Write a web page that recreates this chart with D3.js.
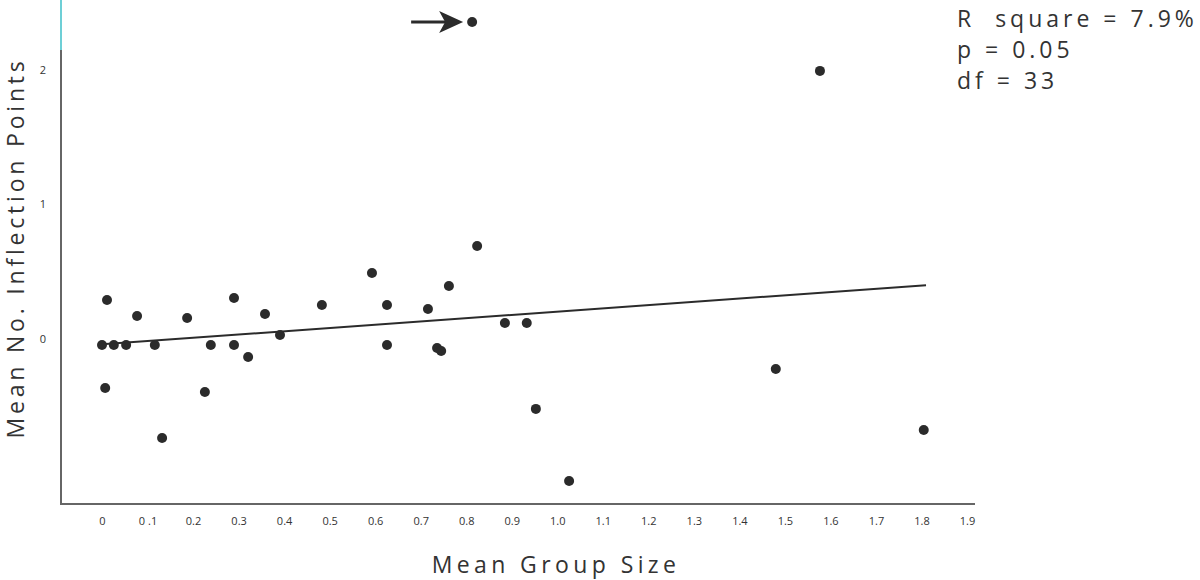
<!DOCTYPE html>
<html>
<head>
<meta charset="utf-8">
<script src="https://cdn.jsdelivr.net/npm/d3@7"></script>
<style>
    body { margin: 0; background: #fff; }
    svg { display: block; }
    text { font-family: "Open Sans", "DejaVu Sans", sans-serif; fill: #333; }
</style>
</head>
<body>
<svg id="chart" width="1200" height="580"></svg>
<script>
// group size vs. inflection points
const groupSize = [
    0.00, 0.011, 0.026, 0.053, 0.007, 0.077, 0.116, 0.132, 0.187, 0.226, 0.239,
    0.290, 0.290, 0.321, 0.358, 0.391, 0.483, 0.593, 0.626, 0.626, 0.716, 0.736,
    0.745, 0.762, 0.824, 0.885, 0.933, 0.953, 1.026, 0.813, 1.480, 1.577, 1.805
]
const inflections = [
    -0.045, 0.29, -0.045, -0.045, -0.364, 0.171, -0.045, -0.736, 0.156, -0.394, -0.045,
    0.305, -0.045, -0.134, 0.186, 0.030, 0.253, 0.491, 0.253, -0.045, 0.223, -0.067,
    -0.089, 0.394, 0.691, 0.119, 0.119, -0.520, -1.056, 2.357, -0.223, 1.993, -0.677
]
const fitLine = [[0, -0.04], [1.81, 0.40]]
const xTicks = d3.range(0, 20).map(i => i / 10)
const xTickLabels = ['0', '0 .1', '0.2', '0.3', '0.4', '0.5', '0.6', '0.7', '0.8', '0.9',
    '1.0', '1.1', '1.2', '1.3', '1.4', '1.5', '1.6', '1.7', '1.8', '1.9']
const yTicks = [0, 1, 2]
const stats = ['R  square = 7.9%', 'p = 0.05', 'df = 33']
const outlierIndex = 29

const svg = d3.select('#chart')
const left = 61, bottom = 504, right = 975

const x = d3.scaleLinear().domain([0, 1.9]).range([102, 967])
const y = d3.scaleLinear().domain([-1.227, 2.52]).range([bottom, 0])

// axes (labels only, lines drawn by hand below)
svg.append('g')
    .attr('transform', `translate(0,${bottom + 10})`)
    .call(d3.axisBottom(x).tickValues(xTicks).tickSize(0)
        .tickFormat((d, i) => xTickLabels[i]))
    .call(g => g.select('.domain').remove())
    .selectAll('text')
        .style('font-size', '11px')
        .style('fill', '#333')

svg.append('g')
    .attr('transform', `translate(${left - 12},0)`)
    .call(d3.axisLeft(y).tickValues(yTicks).tickSize(0).tickFormat(d3.format('d')))
    .call(g => g.select('.domain').remove())
    .selectAll('text')
        .style('font-size', '11px')
        .style('fill', '#333')

svg.append('line')
    .attr('x1', left).attr('x2', right)
    .attr('y1', bottom).attr('y2', bottom)
    .attr('stroke', '#666').attr('stroke-width', 2)
svg.append('line')
    .attr('x1', left).attr('x2', left)
    .attr('y1', 50).attr('y2', bottom + 1)
    .attr('stroke', '#666').attr('stroke-width', 2)
svg.append('line')
    .attr('x1', left).attr('x2', left)
    .attr('y1', 0).attr('y2', 50)
    .attr('stroke', '#6dcfd6').attr('stroke-width', 2)

// regression line
svg.append('path')
    .datum(fitLine)
    .attr('fill', 'none')
    .attr('stroke', '#2b2b2b')
    .attr('stroke-width', 2)
    .attr('d', d3.line().x(d => x(d[0])).y(d => y(d[1])))

// points
svg.append('g')
    .selectAll('circle')
    .data(groupSize)
    .join('circle')
    .attr('cx', d => x(d))
    .attr('cy', (d, i) => y(inflections[i]))
    .attr('r', 5)
    .attr('fill', '#2b2b2b')

// arrow pointing at the outlier
const ax = x(groupSize[outlierIndex]), ay = y(inflections[outlierIndex])
svg.append('line')
    .attr('x1', ax - 61).attr('x2', ax - 20)
    .attr('y1', ay).attr('y2', ay)
    .attr('stroke', '#2b2b2b').attr('stroke-width', 3)
svg.append('path')
    .attr('d', `M${ax - 9},${ay} L${ax - 33},${ay - 11} L${ax - 27},${ay} L${ax - 33},${ay + 11} Z`)
    .attr('fill', '#2b2b2b')

// titles
svg.append('text')
    .attr('x', 556).attr('y', 573)
    .attr('text-anchor', 'middle')
    .style('font-size', '23px')
    .style('letter-spacing', '4.4px')
    .text('Mean Group Size')

svg.append('text')
    .attr('transform', 'translate(24,248) rotate(-90)')
    .attr('text-anchor', 'middle')
    .style('font-size', '23px')
    .style('letter-spacing', '3.8px')
    .text('Mean No. Inflection Points')

svg.append('g')
    .selectAll('text')
    .data(stats)
    .join('text')
    .attr('x', 957)
    .attr('y', (d, i) => 27 + i * 31)
    .style('font-size', '23px')
    .style('letter-spacing', '4px')
    .style('white-space', 'pre')
    .text(d => d)
</script>
</body>
</html>
